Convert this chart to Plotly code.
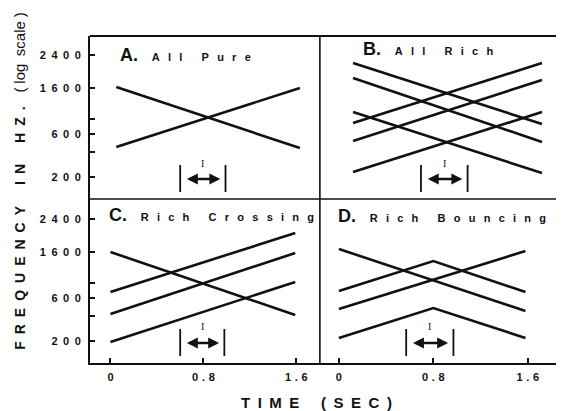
import plotly.graph_objects as go

# ---------------- data ----------------
panel_letters = ["A.", "B.", "C.", "D."]
panel_names = ["All Pure", "All Rich", "Rich Crossing", "Rich Bouncing"]

# frequency axis: scale positions of the tick marks and their labels
freq_tick_pos = [22, 47, 65, 80, 111, 144]
freq_tick_labels = ["200", "", "600", "", "1600", "2400"]
time_tick_vals = [0, 0.8, 1.6]
time_tick_labels = ["0", "0.8", "1.6"]

# Panel A: All Pure (time in s, frequency in scale positions)
a_time = [0.05, 1.63]
a_glides = [[112, 51], [52, 111]]

# Panel B: All Rich
b_time = [0.12, 1.72]
b_glides = [[136, 75], [121, 57], [87, 26], [27, 87], [58, 119], [76, 136]]

# Panel C: Rich Crossing
c_time = [0.0, 1.59]
c_glides = [[111, 48], [71, 130], [49, 110], [21, 81]]

# Panel D: Rich Bouncing
d_time = [0.0, 0.8, 1.58]
d_glides = [[114, 83, 52], [54, 83, 112], [72, 102, 71], [25, 55, 25]]

# interval "I" marker (start, end in s) per panel
interval_a = [0.60, 0.99]
interval_b = [0.695, 1.09]
interval_c = [0.60, 0.98]
interval_d = [0.57, 0.97]
interval_bar = [7, 34]
interval_arrow_y = 20
interval_label_y = 36

# ---------------- styling ----------------
FONT = "Liberation Sans, Arial, sans-serif"
INK = "#111111"
LW = 2.6
EN = "\u2002"

def spaced(s, gap=EN, word_gap=EN + "\u00a0" + EN):
    words = s.split(" ")
    return word_gap.join(gap.join(list(w)) for w in words)

fig = go.Figure()

panels = [
    ("x", "y", a_time, a_glides, interval_a),
    ("x2", "y2", b_time, b_glides, interval_b),
    ("x3", "y3", c_time, c_glides, interval_c),
    ("x4", "y4", d_time, d_glides, interval_d),
]

annotations = []
for i, (xa, ya, t, glides, itv) in enumerate(panels):
    for g in glides:
        fig.add_trace(go.Scatter(x=t, y=g, xaxis=xa, yaxis=ya, mode="lines",
                                 line=dict(color=INK, width=LW), showlegend=False,
                                 hoverinfo="skip"))
    # interval bars
    for xb in itv:
        fig.add_trace(go.Scatter(x=[xb, xb], y=interval_bar, xaxis=xa, yaxis=ya,
                                 mode="lines", line=dict(color=INK, width=1.8),
                                 showlegend=False, hoverinfo="skip"))
    inset = 0.045
    annotations.append(dict(
        x=itv[1] - inset, y=interval_arrow_y, ax=itv[0] + inset, ay=interval_arrow_y,
        xref=xa, yref=ya, axref=xa, ayref=ya, text="", showarrow=True,
        arrowhead=2, arrowside="end+start", arrowsize=0.95, arrowwidth=2.3,
        arrowcolor=INK))
    annotations.append(dict(
        x=(itv[0] + itv[1]) / 2, y=interval_label_y, xref=xa, yref=ya, text="I",
        showarrow=False, font=dict(family="Liberation Serif, serif", size=10, color=INK)))

# panel titles
title_pos = [(0.122, 0.885), (0.17, 0.92), (0.072, 0.905), (0.068, 0.895)]
axes_ids = ["x", "x2", "x3", "x4"]
axes_ids_y = ["y", "y2", "y3", "y4"]
LGAP = "\u2002\u2005"
WGAP = "\u2002\u2005\u2003"
for i in range(4):
    txt = ("<b><span style='font-size:18px'>" + panel_letters[i] + "</span></b>"
           + "\u2003\u2005" + "<b>" + spaced(panel_names[i], gap=LGAP, word_gap=WGAP) + "</b>")
    annotations.append(dict(
        x=title_pos[i][0], y=title_pos[i][1],
        xref=axes_ids[i] + " domain", yref=axes_ids_y[i] + " domain",
        text=txt, showarrow=False, xanchor="left", yanchor="middle",
        font=dict(family=FONT, size=11, color=INK)))

# axis titles
annotations.append(dict(
    x=-0.148, y=0.557, xref="paper", yref="paper", textangle=-90,
    text="<b>" + spaced("FREQUENCY IN HZ.", gap=EN, word_gap="\u2003\u2002") + "</b>"
         + "\u2003" + "<span style='font-size:15px'>(\u2005log\u2002scale\u2005)</span>",
    showarrow=False, xanchor="center", yanchor="middle",
    font=dict(family=FONT, size=14, color=INK)))
annotations.append(dict(
    x=0.479, y=-0.122, xref="paper", yref="paper",
    text="<b>" + spaced("TIME (SEC)", gap=EN, word_gap="\u2003\u2005\u2009") + "</b>",
    showarrow=False, xanchor="center", yanchor="middle",
    font=dict(family=FONT, size=15, color=INK)))

xsplit = 0.486
ysplit = 0.5015

left_range = [-0.176, 1.802]
right_range = [-0.161, 1.898]

def xaxis(domain, rng, anchor, bottom):
    d = dict(domain=domain, range=rng, anchor=anchor, showgrid=False, zeroline=False,
             fixedrange=True)
    if bottom:
        d.update(showline=True, linecolor=INK, linewidth=2, ticks="inside", ticklen=5,
                 tickwidth=1.5, tickcolor=INK, tickvals=time_tick_vals,
                 ticktext=["<b>" + spaced(s, gap="\u2004") + "</b>" for s in time_tick_labels],
                 tickfont=dict(family=FONT, size=11, color=INK), ticklabelstandoff=3)
    else:
        d.update(showline=False, showticklabels=False, ticks="")
    return d

def yaxis(domain, rng, anchor, left):
    d = dict(domain=domain, range=rng, anchor=anchor, showgrid=False, zeroline=False,
             fixedrange=True)
    if left:
        d.update(showline=True, linecolor=INK, linewidth=2, ticks="inside", ticklen=5,
                 tickwidth=1.5, tickcolor=INK, tickvals=freq_tick_pos,
                 ticktext=[("<b>" + spaced(s) + "</b>") if s else "" for s in freq_tick_labels],
                 tickfont=dict(family=FONT, size=11, color=INK), ticklabelstandoff=5)
    else:
        d.update(showline=False, showticklabels=False, ticks="")
    return d

# page body has an 8px margin: size/margins compensate so the chart lands on 564x411
fig.update_layout(
    width=556, height=403,
    margin=dict(l=82, r=1, t=28, b=48),
    paper_bgcolor="white", plot_bgcolor="white",
    xaxis=xaxis([0, xsplit], left_range, "y", False),
    yaxis=yaxis([ysplit, 1], [0, 163], "x", True),
    xaxis2=xaxis([xsplit, 1], right_range, "y2", False),
    yaxis2=yaxis([ysplit, 1], [0, 163], "x2", False),
    xaxis3=xaxis([0, xsplit], left_range, "y3", True),
    yaxis3=yaxis([0, ysplit], [0, 164], "x3", True),
    xaxis4=xaxis([xsplit, 1], right_range, "y4", True),
    yaxis4=yaxis([0, ysplit], [0, 164], "x4", False),
    annotations=annotations,
    shapes=[
        dict(type="line", xref="paper", yref="paper", x0=0, x1=1.003, y0=1, y1=1,
             line=dict(color=INK, width=2)),
        dict(type="line", xref="paper", yref="paper", x0=0, x1=1.003, y0=ysplit, y1=ysplit,
             line=dict(color=INK, width=1.6)),
        dict(type="line", xref="paper", yref="paper", x0=xsplit, x1=xsplit, y0=0, y1=1,
             line=dict(color=INK, width=1.6)),
    ],
)

fig.write_html("out.html")
